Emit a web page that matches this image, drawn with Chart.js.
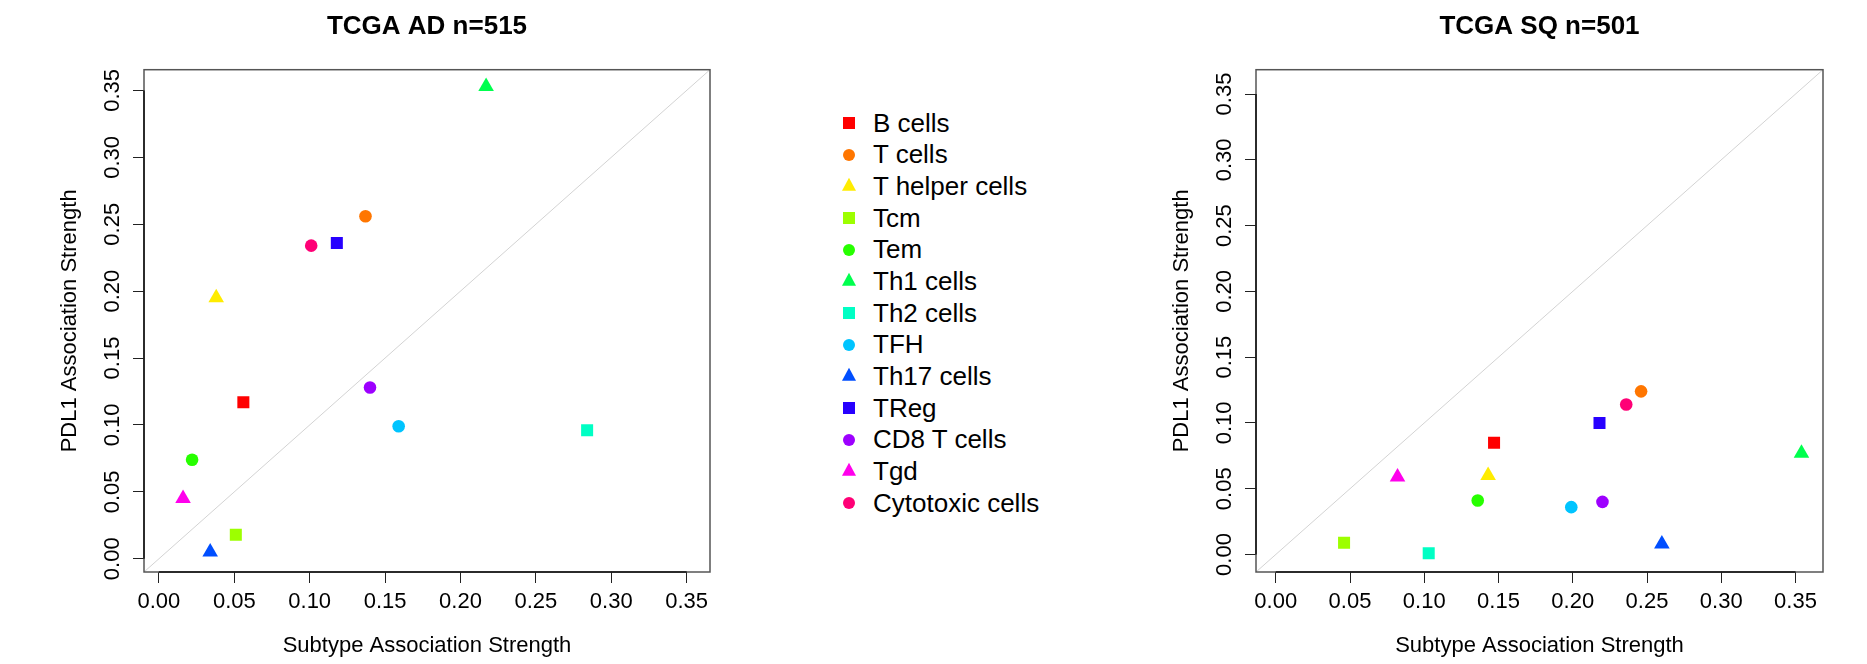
<!DOCTYPE html>
<html>
<head>
<meta charset="utf-8">
<script src="https://cdn.jsdelivr.net/npm/chart.js@4.4.1/dist/chart.umd.min.js"></script>
<style>
  html, body { margin: 0; padding: 0; background: #fff; }
  body { width: 1867px; height: 664px; position: relative; overflow: hidden; font-family: "Liberation Sans", Arial, sans-serif; }
  #adChart { position: absolute; left: 0; top: 0; }
  #sqChart { position: absolute; left: 1112px; top: 0; }
  #legend { position: absolute; left: 837px; top: 107.5px; margin: 0; padding: 0; list-style: none; }
  #legend li { display: flex; align-items: center; height: 31.67px; font-size: 26px; color: #000; white-space: nowrap; }
  .mark { width: 24px; height: 24px; display: flex; align-items: center; justify-content: center; margin-right: 12px; }
</style>
</head>
<body>
<canvas id="adChart" width="740" height="664"></canvas>
<ul id="legend"></ul>
<canvas id="sqChart" width="755" height="664"></canvas>
<script>
const cellTypes = ['B cells', 'T cells', 'T helper cells', 'Tcm', 'Tem', 'Th1 cells', 'Th2 cells',
  'TFH', 'Th17 cells', 'TReg', 'CD8 T cells', 'Tgd', 'Cytotoxic cells'];
// rainbow(13)
const cellColors = ['#FF0000', '#FF7600', '#FFEC00', '#9DFF00', '#27FF00', '#00FF4E', '#00FFC4',
  '#00C4FF', '#004EFF', '#2700FF', '#9D00FF', '#FF00EC', '#FF0076'];
const cellShapes = ['rect', 'circle', 'triangle', 'rect', 'circle', 'triangle', 'rect',
  'circle', 'triangle', 'rect', 'circle', 'triangle', 'circle'];

// TCGA AD
const adSubtype = [0.056, 0.137, 0.038, 0.051, 0.022, 0.217, 0.284, 0.159, 0.034, 0.118, 0.140, 0.016, 0.101];
const adPdl1 = [0.117, 0.256, 0.195, 0.018, 0.074, 0.353, 0.096, 0.099, 0.005, 0.236, 0.128, 0.045, 0.234];
// TCGA SQ
const sqSubtype = [0.147, 0.246, 0.143, 0.046, 0.136, 0.354, 0.103, 0.199, 0.260, 0.218, 0.220, 0.082, 0.236];
const sqPdl1 = [0.085, 0.124, 0.060, 0.009, 0.041, 0.077, 0.001, 0.036, 0.008, 0.100, 0.040, 0.059, 0.114];

const tickValues = [0, 0.05, 0.10, 0.15, 0.20, 0.25, 0.30, 0.35];
const adRange = [-0.0099, 0.3655];
const sqRange = [-0.0133, 0.3685];

Chart.defaults.font.family = '"Liberation Sans", Arial, sans-serif';
Chart.defaults.color = '#000';

const radiusFor = {rect: 8.5, circle: 6.3, triangle: 9};

// diagonal y = x, box and R-style axis lines
const framePlugin = {
  id: 'frame',
  beforeDatasetsDraw(chart) {
    const {ctx, chartArea: a, scales: {x, y}} = chart;
    const lo = Math.max(x.min, y.min);
    const hi = Math.min(x.max, y.max);
    ctx.save();
    ctx.beginPath();
    ctx.rect(a.left, a.top, a.width, a.height);
    ctx.clip();
    ctx.strokeStyle = '#d3d3d3';
    ctx.lineWidth = 1;
    ctx.beginPath();
    ctx.moveTo(x.getPixelForValue(lo), y.getPixelForValue(lo));
    ctx.lineTo(x.getPixelForValue(hi), y.getPixelForValue(hi));
    ctx.stroke();
    ctx.restore();
  },
  afterDraw(chart) {
    const {ctx, chartArea: a, scales: {x, y}} = chart;
    ctx.save();
    ctx.strokeStyle = '#555';
    ctx.lineWidth = 1.5;
    ctx.strokeRect(a.left, a.top, a.width, a.height);
    ctx.strokeStyle = '#111';
    ctx.beginPath();
    const first = tickValues[0], last = tickValues[tickValues.length - 1];
    ctx.moveTo(a.left, y.getPixelForValue(first));
    ctx.lineTo(a.left, y.getPixelForValue(last));
    ctx.moveTo(x.getPixelForValue(first), a.bottom);
    ctx.lineTo(x.getPixelForValue(last), a.bottom);
    ctx.stroke();
    ctx.restore();
  }
};

function axis(title, range, vertical) {
  return {
    type: 'linear',
    min: range[0],
    max: range[1],
    afterBuildTicks: s => { s.ticks = tickValues.map(v => ({value: v})); },
    afterFit: s => { if (vertical) s.width = 144; else s.height = 92; },
    grid: {drawOnChartArea: false, drawTicks: true, tickLength: 11, color: '#222', lineWidth: 1},
    border: {display: false},
    ticks: {
      autoSkip: false,
      color: '#000',
      font: {size: 22},
      padding: vertical ? -1 : 6,
      minRotation: vertical ? 90 : 0,
      maxRotation: vertical ? 90 : 0,
      crossAlign: vertical ? 'center' : 'near',
      callback: v => v.toFixed(2)
    },
    title: {
      display: true,
      text: title,
      color: '#000',
      font: {size: 22},
      padding: vertical ? {top: 56.5, bottom: 0} : {top: 0, bottom: 5}
    }
  };
}

function makeChart(id, title, xs, ys, range, padRight) {
  const datasets = cellTypes.map((name, i) => ({
    label: name,
    data: [{x: xs[i], y: ys[i]}],
    backgroundColor: cellColors[i],
    borderWidth: 0,
    pointStyle: cellShapes[i],
    pointRadius: radiusFor[cellShapes[i]],
    pointHoverRadius: radiusFor[cellShapes[i]]
  }));
  return new Chart(document.getElementById(id), {
    type: 'scatter',
    data: {datasets},
    options: {
      responsive: false,
      animation: false,
      devicePixelRatio: 1,
      layout: {padding: {left: 0, right: padRight, top: 0, bottom: 0}},
      scales: {
        x: axis('Subtype Association Strength', range, false),
        y: axis('PDL1 Association Strength', range, true)
      },
      plugins: {
        legend: {display: false},
        tooltip: {enabled: false},
        title: {
          display: true,
          text: title,
          fullSize: false,
          color: '#000',
          font: {size: 26, weight: 'bold'},
          padding: {top: 11.4, bottom: 27.1}
        }
      }
    },
    plugins: [framePlugin]
  });
}

makeChart('adChart', 'TCGA AD n=515', adSubtype, adPdl1, adRange, 30);
makeChart('sqChart', 'TCGA SQ n=501', sqSubtype, sqPdl1, sqRange, 44);

// shared legend between the two panels
const ul = document.getElementById('legend');
cellTypes.forEach((name, i) => {
  const li = document.createElement('li');
  const box = document.createElement('span');
  box.className = 'mark';
  const m = document.createElement('span');
  const c = cellColors[i];
  if (cellShapes[i] === 'triangle') {
    m.style.width = '0';
    m.style.height = '0';
    m.style.borderLeft = '7.8px solid transparent';
    m.style.borderRight = '7.8px solid transparent';
    m.style.borderBottom = '13.5px solid ' + c;
    m.style.transform = 'translateY(-2.2px)';
  } else {
    const size = cellShapes[i] === 'circle' ? 12.4 : 12;
    m.style.width = size + 'px';
    m.style.height = size + 'px';
    m.style.background = c;
    if (cellShapes[i] === 'circle') m.style.borderRadius = '50%';
  }
  box.appendChild(m);
  const text = document.createElement('span');
  text.textContent = name;
  li.appendChild(box);
  li.appendChild(text);
  ul.appendChild(li);
});
</script>
</body>
</html>
